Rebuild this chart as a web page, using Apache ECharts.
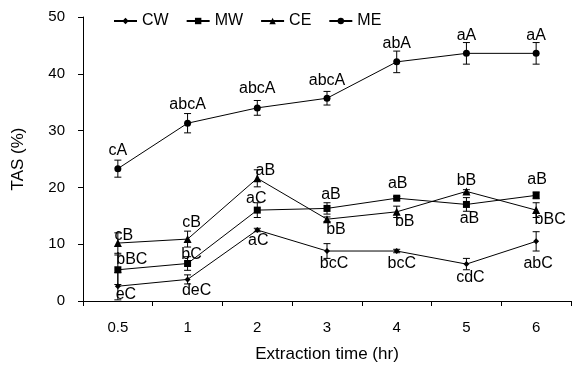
<!DOCTYPE html>
<html>
<head>
<meta charset="utf-8">
<script src="https://cdn.jsdelivr.net/npm/echarts@6/dist/echarts.min.js"></script>
<style>
  html, body { margin: 0; padding: 0; background: #fff; }
  #chart { width: 578px; height: 368px; }
</style>
</head>
<body>
<div id="chart"></div>
<script>
const categories = ['0.5', '1', '2', '3', '4', '5', '6']

const cw = [2.6, 3.8, 12.5, 8.8, 8.8, 6.5, 10.5]
const cwErr = [2.4, 0.8, 0.3, 1.3, 0.3, 1.0, 1.7]
const cwLetters = ['eC', 'deC', 'aC', 'bcC', 'bcC', 'cdC', 'abC']

const mw = [5.5, 6.6, 16.0, 16.3, 18.1, 17.0, 18.6]
const mwErr = [2.6, 1.2, 1.3, 1.0, 0.3, 1.2, 0.6]
const mwLetters = ['bBC', 'bC', 'aC', 'aB', 'aB', 'aB', 'aB']

const ce = [10.2, 10.9, 21.6, 14.4, 15.7, 19.3, 16.0]
const ceErr = [1.8, 1.4, 1.5, 0.4, 1.0, 0.3, 1.3]
const ceLetters = ['cB', 'cB', 'aB', 'bB', 'bB', 'bB', 'bBC']

const me = [23.3, 31.3, 34.0, 35.7, 42.1, 43.6, 43.6]
const meErr = [1.5, 1.7, 1.3, 1.2, 1.9, 1.9, 1.9]
const meLetters = ['cA', 'abcA', 'abcA', 'abcA', 'abA', 'aA', 'aA']

// where each letter sits relative to its point (px)
const cwLabelAt = [[8, 8], [9, 11], [1, 11], [7, 13], [5, 13], [4, 14], [2, 22]]
const mwLabelAt = [[14, -10], [4, -9], [-1, -12], [4, -14], [1, -15], [3, 14], [1, -16]]
const ceLabelAt = [[6, -7], [4, -16], [8, -8], [9, 10], [8, 10], [0, -11], [14, 9]]
const meLabelAt = [[0, -18], [0, -19], [0, -19], [0, -18], [0, -18], [0, -18], [0, -18]]

const FONT = 'Liberation Sans, Arial, sans-serif'

function lineSeries (name, values, letters, labelAt, symbol, size) {
  return {
    name: name,
    type: 'line',
    symbol: symbol,
    symbolSize: size,
    z: 3,
    lineStyle: { color: '#000', width: 1 },
    itemStyle: { color: '#000' },
    data: values.map((v, i) => ({
      value: v,
      label: { formatter: letters[i], offset: labelAt[i] },
    })),
    label: {
      show: true,
      position: 'inside',
      color: '#000',
      fontSize: 16,
      fontFamily: FONT,
    },
  }
}

function errorSeries (values, errs) {
  return {
    type: 'custom',
    z: 2,
    silent: true,
    data: values.map((v, i) => [i, v - errs[i], v + errs[i]]),
    renderItem: (params, api) => {
      const lo = api.coord([api.value(0), api.value(1)])
      const hi = api.coord([api.value(0), api.value(2)])
      const w = 3.5
      const style = { stroke: '#000', lineWidth: 1 }
      return {
        type: 'group',
        children: [
          { type: 'line', shape: { x1: lo[0], y1: lo[1], x2: hi[0], y2: hi[1] }, style: style },
          { type: 'line', shape: { x1: lo[0] - w, y1: lo[1], x2: lo[0] + w, y2: lo[1] }, style: style },
          { type: 'line', shape: { x1: hi[0] - w, y1: hi[1], x2: hi[0] + w, y2: hi[1] }, style: style },
        ],
      }
    },
  }
}

const chart = echarts.init(document.getElementById('chart'))
chart.setOption({
  animation: false,
  backgroundColor: '#fff',
  textStyle: { fontFamily: FONT, color: '#000' },
  grid: { left: 83, right: 7, top: 17, bottom: 61 },
  legend: {
    left: 108,
    top: 8,
    itemWidth: 23,
    itemHeight: 8,
    itemGap: 17,
    textStyle: { fontSize: 16, fontFamily: FONT, color: '#000' },
    data: ['CW', 'MW', 'CE', 'ME'],
  },
  xAxis: {
    type: 'category',
    data: categories,
    boundaryGap: true,
    name: 'Extraction time (hr)',
    nameLocation: 'middle',
    nameGap: 45,
    nameTextStyle: { fontSize: 17, fontFamily: FONT, color: '#000' },
    axisLine: { lineStyle: { color: '#000', width: 1 } },
    axisTick: { show: true, length: 5, lineStyle: { color: '#000' } },
    axisLabel: { margin: 19, fontSize: 15, fontFamily: FONT, color: '#000' },
    splitLine: { show: false },
  },
  yAxis: {
    type: 'value',
    min: 0,
    max: 50,
    interval: 10,
    name: 'TAS (%)',
    nameLocation: 'middle',
    nameGap: 56,
    nameTextStyle: { fontSize: 17, fontFamily: FONT, color: '#000' },
    axisLine: { show: true, lineStyle: { color: '#000', width: 1 } },
    axisTick: { show: true, length: 5, lineStyle: { color: '#000' } },
    axisLabel: { margin: 18, fontSize: 15, fontFamily: FONT, color: '#000' },
    splitLine: { show: false },
  },
  series: [
    errorSeries(cw, cwErr),
    errorSeries(mw, mwErr),
    errorSeries(ce, ceErr),
    errorSeries(me, meErr),
    lineSeries('CW', cw, cwLetters, cwLabelAt, 'diamond', 6),
    lineSeries('MW', mw, mwLetters, mwLabelAt, 'rect', 7),
    lineSeries('CE', ce, ceLetters, ceLabelAt, 'triangle', 8),
    lineSeries('ME', me, meLetters, meLabelAt, 'circle', 7),
  ],
})
</script>
</body>
</html>
